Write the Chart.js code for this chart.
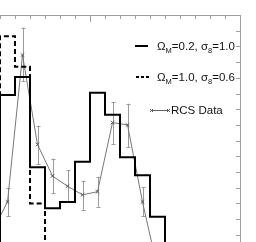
<!DOCTYPE html>
<html>
<head>
<meta charset="utf-8">
<script src="https://cdn.jsdelivr.net/npm/chart.js@4.4.1/dist/chart.umd.min.js"></script>
<style>
  html, body { margin: 0; padding: 0; background: #fff; }
  body { width: 256px; height: 242px; overflow: hidden; position: relative; }
  #wrap { position: absolute; left: -30px; top: 0; width: 286px; height: 284px; }
  .lg { position: absolute; font-family: "Liberation Sans", Arial, sans-serif; font-size: 11.5px; line-height: 12px; color: #111; white-space: nowrap; }
  .lg sub { font-size: 7.5px; position: relative; top: 3px; vertical-align: baseline; line-height: 0; }
  .sw { position: absolute; }
</style>
</head>
<body>
<div id="wrap"><canvas id="chart" width="286" height="284"></canvas></div>

<div class="sw" style="left:135px;top:45px;width:13px;height:2px;background:#000"></div>
<div class="lg" style="left:157px;top:40px">Ω<sub>M</sub>=0.2, σ<sub>8</sub>=1.0</div>

<div class="sw" style="left:136px;top:76px;width:13px;height:2px;background:repeating-linear-gradient(90deg,#000 0 3px,transparent 3px 5px)"></div>
<div class="lg" style="left:157px;top:71px">Ω<sub>M</sub>=1.0, σ<sub>8</sub>=0.6</div>

<svg class="sw" style="left:149px;top:105px" width="22" height="10">
  <line x1="2.5" y1="5.5" x2="19.5" y2="5.5" stroke="#666" stroke-width="1"/>
  <path d="M1 4 L4 7 M4 4 L1 7 M18 4 L21 7 M21 4 L18 7" stroke="#555" stroke-width="1"/>
</svg>
<div class="lg" style="left:171px;top:104px">RCS Data</div>

<script>
// histogram bin starts (one unit per bin), last entry closes the step line
const binEdges = [-2, -1, 0, 1, 2, 3, 4, 5, 6, 7, 8, 9, 10, 11, 12, 13, 14, 15, 16];
// model with Omega_M=0.2, sigma_8=1.0 (solid)
const modelLow = [1, 1, 11.9, 13.05, 7.3, 4.7, 5.1, 7.65, 12.05, 10.65, 7.95, 6.8, 4.15, 1, 0.5, 0, 0, 0, 0];
// model with Omega_M=1.0, sigma_8=0.6 (dashed)
const modelHigh = [1, 1.5, 15.65, 13.7, 5.0, 1.5, 0.5, 0, 0, 0, 0, 0, 0, 0, 0, 0, 0, 0, 0];

// RCS data, bin centres
const rcsX = [-0.5, 0.5, 1.5, 2.5, 3.5, 4.5, 5.5, 6.5, 7.5, 8.5, 9.5, 10.5];
const rcsY = [3.25, 5.1, 14.45, 8.75, 6.75, 6.1, 5.55, 5.75, 10.15, 10.0, 5.1, 0.85];
const rcsLow = [2.25, 4.2, 12.8, 7.5, 5.65, 5.15, 4.6, 4.8, 8.8, 8.6, 4.2, 0.1];
const rcsHigh = [4.25, 6.0, 16.2, 9.95, 7.85, 7.1, 6.45, 6.7, 11.45, 11.35, 6.05, 1.6];

// tick positions on the top and right frame
const topTicks = [-2, -1, 0, 1, 2, 3, 4, 5, 6, 7, 8, 9, 10, 11, 12, 13, 14, 15];
const rightTicks = [0, 1, 2, 3, 4, 5, 6, 7, 8, 9, 10, 11, 12, 13, 14, 15, 16, 17];

const errorBars = {
  id: 'errorBars',
  beforeDatasetsDraw(chart) {
    const { ctx, scales: { x, y } } = chart;
    ctx.save();
    ctx.strokeStyle = '#9a9a9a';
    ctx.lineWidth = 1;
    ctx.beginPath();
    rcsX.forEach((v, i) => {
      const px = Math.round(x.getPixelForValue(v)) + 0.5;
      const top = y.getPixelForValue(rcsHigh[i]);
      const bot = y.getPixelForValue(rcsLow[i]);
      ctx.moveTo(px, top); ctx.lineTo(px, bot);
      ctx.moveTo(px - 2, Math.round(top) + 0.5); ctx.lineTo(px + 2, Math.round(top) + 0.5);
      ctx.moveTo(px - 2, Math.round(bot) + 0.5); ctx.lineTo(px + 2, Math.round(bot) + 0.5);
    });
    ctx.stroke();
    ctx.restore();
  }
};

const frame = {
  id: 'frame',
  afterDraw(chart) {
    const { ctx, chartArea: a, scales: { x, y } } = chart;
    ctx.save();
    ctx.strokeStyle = '#a0a0a0';
    ctx.lineWidth = 1;
    ctx.beginPath();
    ctx.moveTo(a.left, a.top + 0.5); ctx.lineTo(a.right + 0.5, a.top + 0.5);
    ctx.moveTo(a.right + 0.5, a.top); ctx.lineTo(a.right + 0.5, a.bottom);
    topTicks.forEach(v => {
      const px = Math.round(x.getPixelForValue(v)) + 0.5;
      ctx.moveTo(px, a.top); ctx.lineTo(px, a.top + (v === 6 ? 7 : 4));
    });
    rightTicks.forEach(v => {
      const py = Math.round(y.getPixelForValue(v)) + 0.5;
      ctx.moveTo(a.right, py); ctx.lineTo(a.right - 4, py);
    });
    ctx.stroke();
    ctx.restore();
  }
};

const ctx = document.getElementById('chart').getContext('2d');
new Chart(ctx, {
  type: 'line',
  data: {
    datasets: [
      {
        label: 'Ω_M=0.2, σ_8=1.0',
        data: binEdges.map((b, i) => ({ x: b, y: modelLow[i] })),
        stepped: true,
        borderColor: '#000',
        borderWidth: 2,
        pointRadius: 0,
        fill: false
      },
      {
        label: 'Ω_M=1.0, σ_8=0.6',
        data: binEdges.map((b, i) => ({ x: b, y: modelHigh[i] })),
        stepped: true,
        borderColor: '#000',
        borderWidth: 2,
        borderDash: [5, 3],
        pointRadius: 0,
        fill: false
      },
      {
        label: 'RCS Data',
        data: rcsX.map((v, i) => ({ x: v, y: rcsY[i] })),
        borderColor: '#777',
        borderWidth: 1,
        pointStyle: 'crossRot',
        pointRadius: 2.5,
        pointBorderColor: '#555',
        pointBorderWidth: 1,
        fill: false
      }
    ]
  },
  options: {
    responsive: false,
    animation: false,
    devicePixelRatio: 1,
    layout: { autoPadding: false, padding: { left: 0, right: 16, top: 15, bottom: 2 } },
    scales: {
      x: { type: 'linear', min: -2, max: 16, display: false },
      y: { min: 0, max: 17, display: false }
    },
    plugins: { legend: { display: false }, tooltip: { enabled: false } }
  },
  plugins: [errorBars, frame]
});
</script>
</body>
</html>
